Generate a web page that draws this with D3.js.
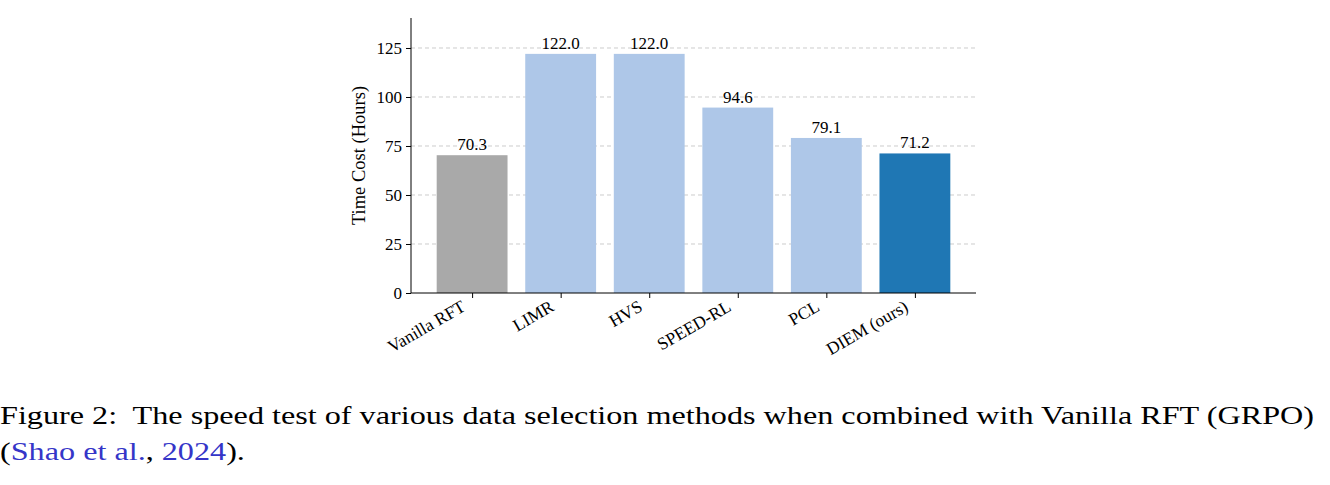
<!DOCTYPE html>
<html>
<head>
<meta charset="utf-8">
<script src="https://cdn.jsdelivr.net/npm/d3@7"></script>
<style>
  body { margin: 0; background: #fff; }
  svg text { font-family: "Liberation Serif", "Times New Roman", serif; }
</style>
</head>
<body>
<svg id="chart" width="1330" height="485"></svg>
<script>
// data
let methods = ['Vanilla RFT', 'LIMR', 'HVS', 'SPEED-RL', 'PCL', 'DIEM (ours)']
let hours = [70.3, 122.0, 122.0, 94.6, 79.1, 71.2]
let barColors = ['#a9a9a9', '#aec7e8', '#aec7e8', '#aec7e8', '#aec7e8', '#1f77b4']
let yTicks = [0, 25, 50, 75, 100, 125]

let svg = d3.select('#chart')

let plotLeft = 411, plotRight = 976, plotTop = 18, plotBottom = 293

// matplotlib style: bars at 0..5, width 0.8, 5% margins
let x = d3.scaleLinear().domain([-0.69, 5.69]).range([plotLeft, plotRight])
let y = d3.scaleLinear().domain([0, 140.3]).range([plotBottom, plotTop])

// grid
svg.append('g')
  .selectAll('line')
  .data(yTicks.filter(d => d > 0))
  .enter()
  .append('line')
  .attr('x1', plotLeft).attr('x2', plotRight)
  .attr('y1', d => y(d)).attr('y2', d => y(d))
  .attr('stroke', '#cccccc')
  .attr('stroke-width', 1)
  .attr('stroke-dasharray', '4,3')

// bars
svg.append('g')
  .selectAll('rect')
  .data(hours)
  .enter()
  .append('rect')
  .attr('x', (d, i) => x(i - 0.4))
  .attr('width', x(0.8) - x(0))
  .attr('y', d => y(d))
  .attr('height', d => y(0) - y(d))
  .attr('fill', (d, i) => barColors[i])

// value labels
svg.append('g')
  .selectAll('text')
  .data(hours)
  .enter()
  .append('text')
  .attr('x', (d, i) => x(i))
  .attr('y', d => y(d) - 5)
  .attr('text-anchor', 'middle')
  .attr('font-size', 17)
  .text(d => d.toFixed(1))

// y axis
let yAxis = svg.append('g')
  .attr('transform', `translate(${plotLeft},0)`)
  .call(d3.axisLeft(y).tickValues(yTicks).tickSize(5).tickPadding(4))
yAxis.select('.domain').attr('d', `M0,${plotTop}V${plotBottom}`).attr('stroke', '#000')
yAxis.selectAll('text').attr('font-size', 17).attr('font-family', '"Liberation Serif", serif').attr('fill', '#000')

// x axis
let xAxis = svg.append('g')
  .attr('transform', `translate(0,${plotBottom})`)
  .call(d3.axisBottom(x).tickValues(d3.range(methods.length)).tickSize(5).tickFormat(i => methods[i]))
xAxis.select('.domain').attr('d', `M${plotLeft},0H${plotRight}`).attr('stroke', '#000')
xAxis.selectAll('text')
  .attr('font-size', 17.5)
  .attr('font-family', '"Liberation Serif", serif')
  .attr('fill', '#000')
  .attr('text-anchor', 'end')
  .attr('dy', null)
  .attr('y', 0)
  .attr('transform', 'translate(-6,17) rotate(-30)')

// y label
svg.append('text')
  .attr('transform', `translate(365,${(plotTop + plotBottom) / 2}) rotate(-90)`)
  .attr('text-anchor', 'middle')
  .attr('font-size', 18.5)
  .text('Time Cost (Hours)')

// caption
let cap1 = svg.append('text')
  .attr('x', 0)
  .attr('y', 424)
  .attr('font-size', 25)
  .attr('xml:space', 'preserve')
  .text('Figure 2:  The speed test of various data selection methods when combined with Vanilla RFT (GRPO)')
let w = cap1.node().getComputedTextLength()
cap1.attr('textLength', 1314).attr('lengthAdjust', 'spacingAndGlyphs')

let cap2 = svg.append('text')
  .attr('x', 0)
  .attr('y', 460)
  .attr('font-size', 25)
cap2.append('tspan').text('(')
cap2.append('tspan').attr('fill', '#3535c8').text('Shao et al.')
cap2.append('tspan').text(', ')
cap2.append('tspan').attr('fill', '#3535c8').text('2024')
cap2.append('tspan').text(').')
// stretch second line by the same ratio as the first
let ratio = 1314 / w
let w2 = cap2.node().getComputedTextLength()
cap2.attr('textLength', w2 * ratio).attr('lengthAdjust', 'spacingAndGlyphs')
</script>
</body>
</html>
